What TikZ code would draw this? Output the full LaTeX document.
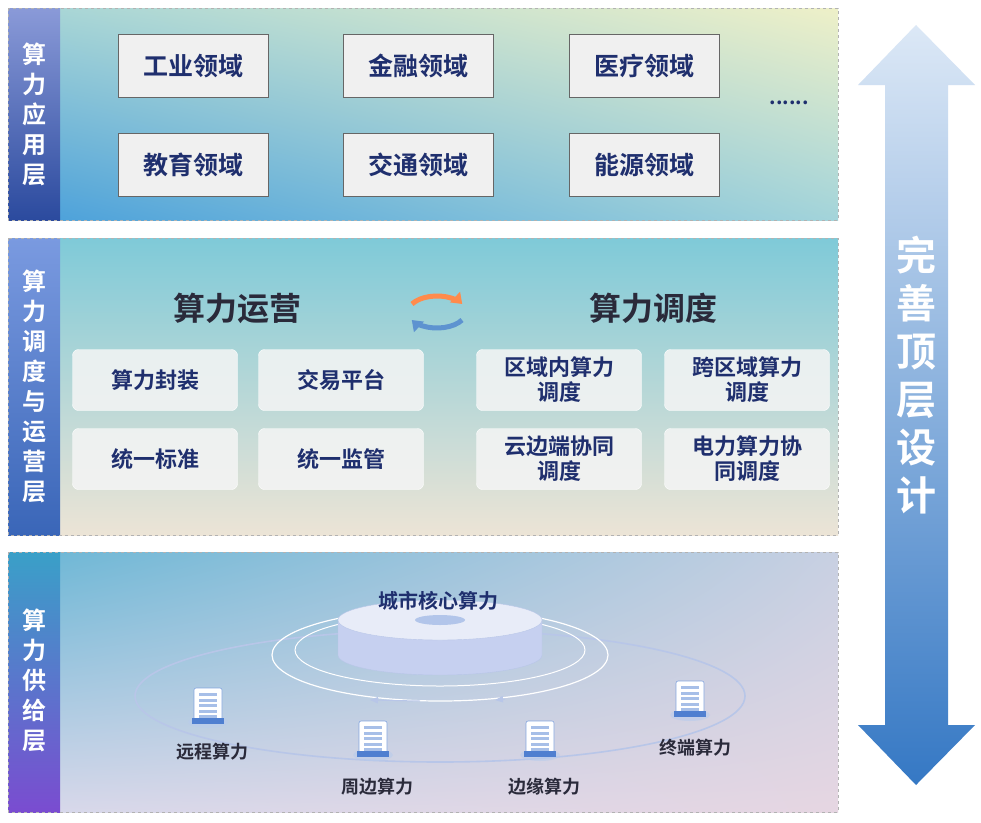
\documentclass[tikz,border=0pt]{standalone}
\usepackage{fontspec}
\setmainfont{Noto Sans CJK SC}[BoldFont={Noto Sans CJK SC Bold}]
\usetikzlibrary{arrows.meta,shapes.geometric,shadings}
\definecolor{navy}{HTML}{1F2F6E}
\definecolor{txt}{HTML}{2A2A3A}
\definecolor{topTL}{HTML}{A9D6D6}
\definecolor{topTR}{HTML}{EEF0C8}
\definecolor{topBL}{HTML}{4EA2DA}
\definecolor{topBR}{HTML}{A3D4DA}
\definecolor{midT}{HTML}{7FCAD8}
\definecolor{midB}{HTML}{ECE4D6}
\definecolor{botTL}{HTML}{70B8D6}
\definecolor{botTR}{HTML}{C8D0E2}
\definecolor{botBL}{HTML}{D8D8EA}
\definecolor{botBR}{HTML}{E6D6E2}
\definecolor{bar1T}{HTML}{8A9AD8}
\definecolor{bar1B}{HTML}{2B4A9E}
\definecolor{bar2T}{HTML}{7A9AE0}
\definecolor{bar2B}{HTML}{3A66B8}
\definecolor{bar3T}{HTML}{3AA0C8}
\definecolor{bar3B}{HTML}{7A4CD0}
\definecolor{arrT}{HTML}{DCE8F6}
\definecolor{arrB}{HTML}{3578C4}
\definecolor{orb}{HTML}{B8C6E8}
\definecolor{cylS}{HTML}{C6D0F0}
\definecolor{cylT}{HTML}{E8ECF8}
\definecolor{srv}{HTML}{4F7FD0}
\tikzset{
  panel/.style={draw=gray!60,dashed,line width=0.6pt},
  appbox/.style={draw=gray!80!black,line width=0.8pt,fill=gray!12,minimum width=150pt,minimum height=63pt,font=\bfseries\fontsize{25}{27}\selectfont,text=navy},
  opbox/.style={draw=white,rounded corners=6pt,fill=white!92!gray,fill opacity=0.85,text opacity=1,minimum width=165pt,minimum height=61pt,font=\bfseries\fontsize{22}{25}\selectfont,text=navy,align=center},
  head/.style={font=\bfseries\fontsize{32}{34}\selectfont,text=txt},
  side/.style={font=\bfseries\fontsize{24}{30}\selectfont,text=white,align=center},
  slab/.style={font=\bfseries\fontsize{18}{20}\selectfont,text=txt},
}
\newcommand{\server}[2]{%
  \fill[srv!40!white,opacity=0.6] (#1+0,#2+14) ellipse (20 and 6);
  \fill[white,draw=srv!70,line width=0.6pt,rounded corners=2pt] (#1-14,#2-20) rectangle (#1+14,#2+14);
  \fill[srv] (#1-16,#2+10) rectangle (#1+16,#2+16);
  \foreach \k in {0,1,2,3,4} {\fill[srv!50!white] (#1-9,#2-15+\k*5.5) rectangle (#1+9,#2-12+\k*5.5);}
}
\begin{document}
\begin{tikzpicture}[x=1pt,y=-1pt]
\useasboundingbox (0,0) rectangle (981,822);
\fill[white] (0,0) rectangle (981,822);
% top panel
\shade[upper left=topTL,upper right=topTR,lower left=topBL,lower right=topBR] (60,8) rectangle (838,220);
\shade[top color=bar1T,bottom color=bar1B] (8,8) rectangle (60,220);
\draw[panel] (8,8) rectangle (838,220);
\node[side] (l1) at (34,114) {算\\力\\应\\用\\层};
\node[appbox] (a1) at (193,66) {工业领域};
\node[appbox] (a2) at (418,66) {金融领域};
\node[appbox] (a3) at (644,66) {医疗领域};
\node[appbox] (a4) at (193,165) {教育领域};
\node[appbox] (a5) at (418,165) {交通领域};
\node[appbox] (a6) at (644,165) {能源领域};
\node[font=\bfseries\fontsize{20}{20}\selectfont,text=navy] (dots) at (789,103) {......};
% middle panel
\shade[top color=midT,bottom color=midB] (60,238) rectangle (838,535);
\shade[top color=bar2T,bottom color=bar2B] (8,238) rectangle (60,535);
\draw[panel] (8,238) rectangle (838,535);
\node[side] (l2) at (34,386) {算\\力\\调\\度\\与\\运\\营\\层};
\node[head] (h1) at (237,308) {算力运营};
\node[head] (h2) at (653,308) {算力调度};
\coordinate (cyc) at (437,312);
\draw[line width=5pt,orange!70!red!70,-{Triangle[length=10pt,width=14pt]}] ([shift={(-25,-8)}]cyc) arc[start angle=150,end angle=30,x radius=29,y radius=-16];
\draw[line width=5pt,arrB!80,-{Triangle[length=10pt,width=14pt]}] ([shift={(25,8)}]cyc) arc[start angle=-30,end angle=-150,x radius=29,y radius=-16];
\node[opbox] (b1) at (155,380) {算力封装};
\node[opbox] (b2) at (341,380) {交易平台};
\node[opbox] (b3) at (155,459) {统一标准};
\node[opbox] (b4) at (341,459) {统一监管};
\node[opbox] (c1) at (559,380) {区域内算力\\调度};
\node[opbox] (c2) at (747,380) {跨区域算力\\调度};
\node[opbox] (c3) at (559,459) {云边端协同\\调度};
\node[opbox] (c4) at (747,459) {电力算力协\\同调度};
% bottom panel
\shade[upper left=botTL,upper right=botTR,lower left=botBL,lower right=botBR] (60,552) rectangle (838,812);
\shade[top color=bar3T,bottom color=bar3B] (8,552) rectangle (60,812);
\draw[panel] (8,552) rectangle (838,812);
\node[side] (l3) at (34,680) {算\\力\\供\\给\\层};
% orbits
\draw[orb,line width=1.6pt] (440,696) ellipse (305 and 66);
\draw[white,line width=1.2pt] (440,655) ellipse (168 and 46);
\draw[white,line width=1pt] (440,650) ellipse (145 and 36);
\draw[orb,-{Triangle[length=8pt]},line width=1pt] (420,701) -- (370,700);
\draw[orb,-{Triangle[length=8pt]},line width=1pt] (505,699) -- (495,700);
% cylinder
\fill[cylS,draw=orb] (338,620) -- (338,655) arc[start angle=180,end angle=360,x radius=102,y radius=-20] -- (542,620) -- cycle;
\fill[cylT,draw=orb] (440,620) ellipse (102 and 20);
\fill[srv,opacity=0.35] (440,620) ellipse (25 and 5);
\node[font=\bfseries\fontsize{20}{22}\selectfont,text=navy] (core) at (438,601) {城市核心算力};
\server{208}{708}
\server{373}{741}
\server{540}{741}
\server{690}{701}
\node[slab] (s1) at (212,752) {远程算力};
\node[slab] (s2) at (377,787) {周边算力};
\node[slab] (s3) at (544,787) {边缘算力};
\node[slab] (s4) at (695,748) {终端算力};
% right arrow
\shade[top color=arrT,bottom color=arrB]
  (916,25) -- (975,85) -- (948,85) -- (948,725) -- (975,725) -- (916,785) -- (858,725) -- (885,725) -- (885,85) -- (858,85) -- cycle;
\node[font=\bfseries\fontsize{40}{48}\selectfont,text=white,align=center] (design) at (916,375) {完\\善\\顶\\层\\设\\计};
\end{tikzpicture}
\end{document}
